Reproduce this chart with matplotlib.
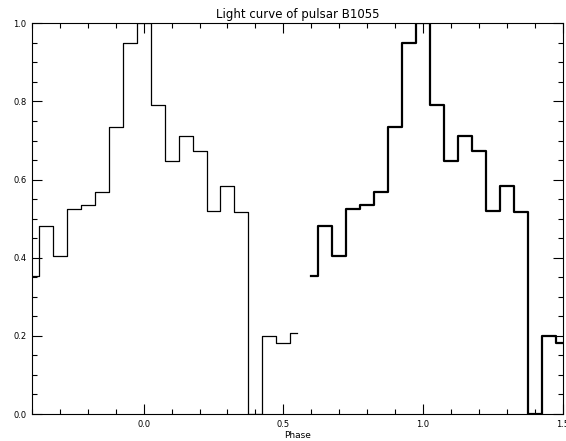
import matplotlib
matplotlib.use("Agg")
import matplotlib.pyplot as plt
from matplotlib.ticker import MultipleLocator

# one pulse period, 20 phase bins
phase = [-0.40, -0.35, -0.30, -0.25, -0.20, -0.15, -0.10, -0.05, 0.00, 0.05,
         0.10, 0.15, 0.20, 0.25, 0.30, 0.35, 0.40, 0.45, 0.50, 0.55]
phase2 = [0.60, 0.65, 0.70, 0.75, 0.80, 0.85, 0.90, 0.95, 1.00, 1.05,
          1.10, 1.15, 1.20, 1.25, 1.30, 1.35, 1.40, 1.45, 1.50, 1.55]
flux = [0.354, 0.481, 0.405, 0.525, 0.534, 0.568, 0.734, 0.950, 1.000, 0.791,
        0.648, 0.711, 0.673, 0.519, 0.583, 0.518, 0.000, 0.199, 0.183, 0.207]

plt.rcParams['font.family'] = ['DejaVu Sans']

fig = plt.figure(figsize=(5.66, 4.41), dpi=100)
ax = fig.add_axes([32 / 566, 27 / 441, 530.5 / 566, 390.7 / 441])

ax.step(phase, flux, where='mid', color='black', lw=0.9)
ax.step(phase2, flux, where='mid', color='black', lw=1.6)

ax.set_xlim(-0.4, 1.5)
ax.set_ylim(0.0, 1.0)
ax.xaxis.set_major_locator(MultipleLocator(0.5))
ax.xaxis.set_minor_locator(MultipleLocator(0.1))
ax.yaxis.set_major_locator(MultipleLocator(0.2))
ax.yaxis.set_minor_locator(MultipleLocator(0.05))
ax.xaxis.set_major_formatter(plt.FormatStrFormatter('%.1f'))
ax.yaxis.set_major_formatter(plt.FormatStrFormatter('%.1f'))

ax.tick_params(which='both', direction='in', top=True, right=True,
               width=0.8, labelsize=6, colors='black')
ax.tick_params(which='major', length=7.5, pad=4)
ax.tick_params(which='minor', length=3.5)
for s in ax.spines.values():
    s.set_linewidth(0.8)

ax.set_title('Light curve of pulsar B1055', fontsize=8.5, pad=4)
ax.set_xlabel('Phase', fontsize=6.5, labelpad=1.5)

fig.savefig('out.png', dpi=100)
